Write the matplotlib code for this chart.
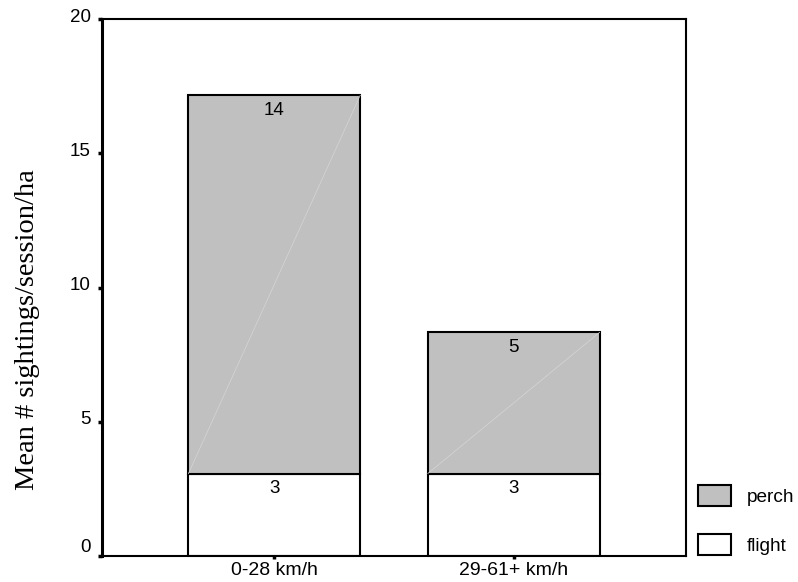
import matplotlib
matplotlib.use("Agg")
import matplotlib.pyplot as plt
import matplotlib.transforms as mtransforms
from matplotlib.patches import Patch
import numpy as np

categories = ["0-28 km/h", "29-61+ km/h"]
flight = [3.07, 3.07]
perch = [14.09, 5.26]
series_names = ["perch", "flight"]
yticks = [0, 5, 10, 15, 20]

W, H = 798, 582
fig = plt.figure(figsize=(W / 100, H / 100), dpi=100)
ax = fig.add_axes([102 / W, 1 - 556 / H, (686 - 102) / W, (556 - 19) / H])

sans = ["Liberation Sans", "DejaVu Sans"]
serif = ["Liberation Serif", "DejaVu Serif"]
fs = 13.5

x = np.arange(len(categories))
bw = 0.718
gray = "#c0c0c0"
ax.bar(x, flight, bw, color="white", edgecolor="black", linewidth=1.5, zorder=2)
ax.bar(x, perch, bw, bottom=flight, color=gray, edgecolor="black", linewidth=1.5, zorder=2)

# faint diagonal artefact inside perch segments
for xi, f, p in zip(x, flight, perch):
    ax.plot([xi - bw / 2, xi + bw / 2], [f, f + p], color="#d6d6d6", lw=0.5, zorder=2.5)

for xi, f, p in zip(x, flight, perch):
    ax.text(xi, f - 0.25, f"{round(f)}", ha="center", va="top", fontsize=fs, family=sans, zorder=3)
    ax.text(xi, f + p - 0.25, f"{round(p)}", ha="center", va="top", fontsize=fs, family=sans, zorder=3)

ax.set_xlim(-0.72, 1.72)
ax.set_ylim(0, 20)
ax.set_yticks(yticks)
ax.set_yticklabels([str(t) for t in yticks], fontsize=fs, family=sans)
ax.set_xticks(x)
ax.set_xticklabels(categories, fontsize=14, family=sans)
ax.tick_params(axis="y", direction="out", length=3, width=2.5, pad=5)
ax.tick_params(axis="x", direction="out", length=2, width=2.5, pad=2)
for s in ["top", "right", "bottom"]:
    ax.spines[s].set_linewidth(1.5)
ax.spines["left"].set_linewidth(2.2)

# y tick labels sit slightly above their ticks
for t, lab in zip(yticks, ax.get_yticklabels()):
    dy = 11 if t == 0 else 4
    lab.set_transform(lab.get_transform() +
                      mtransforms.ScaledTranslation(0, dy / 100, fig.dpi_scale_trans))

fig.text(28 / W, 1 - 330 / H, "Mean # sightings/session/ha", rotation=90,
         ha="center", va="center", fontsize=20.5, family=serif)

handles = [Patch(facecolor=gray, edgecolor="black", linewidth=1.5),
           Patch(facecolor="white", edgecolor="black", linewidth=1.5)]
leg = fig.legend(handles, series_names, loc="upper left",
                 bbox_to_anchor=(692 / W, 1 - 479 / H), frameon=False,
                 prop={"family": sans, "size": 13.7},
                 handlelength=1.74, handleheight=1.35, handletextpad=0.85,
                 labelspacing=1.45, borderaxespad=0, borderpad=0.3)

fig.savefig("out.png", dpi=100)
